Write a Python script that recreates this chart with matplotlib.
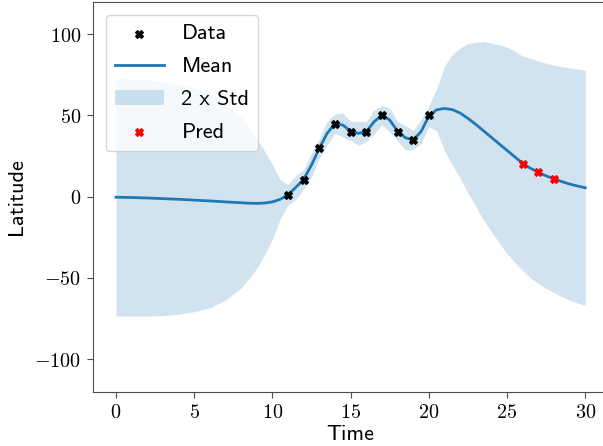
import numpy as np
import matplotlib
matplotlib.use("Agg")
import matplotlib.pyplot as plt
from matplotlib.ticker import FuncFormatter

plt.rcParams['mathtext.fontset'] = 'cm'

# observed data
data_t = [11, 12, 13, 14, 15, 16, 17, 18, 19, 20]
data_y = [1, 10, 30, 45, 40, 40, 50, 40, 35, 50]

# predictions
pred_t = [26, 27, 28]
pred_y = [20, 15, 11]

# GP mean and std
grid_t = [0, 1, 2, 3, 4, 5, 6, 7, 8, 8.5, 9, 9.5, 10, 10.5,
          11, 11.5, 12, 12.5, 13, 13.5, 14, 14.5, 15, 15.5, 16, 16.5,
          17, 17.5, 18, 18.5, 19, 19.5, 20, 20.5, 21, 21.5, 22, 22.5,
          23, 23.5, 24, 24.5, 25, 25.5, 26, 26.5, 27, 27.5, 28, 28.5,
          29, 29.5, 30]
mean_y = [-0.3, -0.5, -0.8, -1.2, -1.6, -2.1, -2.6, -3.2, -3.7, -4.0, -4.1, -3.9, -3.2, -1.6,
          1.2, 5.8, 10.7, 19.5, 29.8, 39.0, 45.0, 44.1, 40.4, 39.0, 40.0, 46.1,
          50.2, 47.2, 40.4, 36.3, 34.9, 40.0, 49.5, 53.5, 54.3, 53.6, 51.5, 48.2,
          44.5, 40.5, 36.5, 32.5, 28.5, 24.5, 20.5, 17.5, 15.0, 12.8, 11.0, 9.3,
          7.8, 6.6, 5.5]
std_y = [36.55, 36.5, 36.35, 36.0, 35.4, 34.35, 32.85, 30.25, 26.25, 23.2, 20.0, 16.0, 11.5, 6.0,
         3.2, 3.7, 3.0, 3.7, 3.0, 3.7, 3.0, 3.7, 3.0, 3.7, 3.0, 3.7,
         3.0, 3.7, 3.0, 3.7, 3.0, 3.7, 3.2, 6.5, 13.0, 17.0, 20.0, 23.0,
         25.25, 27.5, 29.0, 30.5, 31.75, 32.5, 33.0, 33.75, 34.25, 34.65, 35.0, 35.4,
         35.75, 36.0, 36.25]

gt = np.array(grid_t)
gm = np.array(mean_y)
gs = np.array(std_y)

fig = plt.figure(figsize=(6.03, 4.46), dpi=100)
ax = fig.add_axes([92.5 / 603, 1 - 391.7 / 446, 516.2 / 603, 390 / 446])

blue = '#1f77b4'
ax.scatter(data_t, data_y, marker='X', color='black', s=30, zorder=4, label='Data')
ax.plot(gt, gm, color=blue, lw=2, zorder=3, label='Mean')
ax.fill_between(gt, gm - 2 * gs, gm + 2 * gs, color=blue, alpha=0.2, lw=0,
                zorder=1, label='2 x Std')
ax.scatter(pred_t, pred_y, marker='X', color='red', s=30, zorder=4, label='Pred')

ax.set_xlim(-1.5, 31.5)
ax.set_ylim(-120, 120)
ax.set_xticks([0, 5, 10, 15, 20, 25, 30])
ax.set_yticks([-100, -50, 0, 50, 100])
fmt = FuncFormatter(lambda v, p: r'$%d$' % v)
ax.xaxis.set_major_formatter(fmt)
ax.yaxis.set_major_formatter(fmt)
ax.tick_params(labelsize=14.5, color='0.3', length=4.5)
for sp in ax.spines.values():
    sp.set_color('0.3')

ax.set_xlabel('Time', family='cmss10', fontsize=16, labelpad=2)
ax.set_ylabel('Latitude', family='cmss10', fontsize=16, labelpad=6)

leg = ax.legend(loc='upper left', prop={'family': 'cmss10', 'size': 16},
                scatterpoints=1, borderaxespad=0.6, handlelength=2.2,
                labelspacing=0.6)

fig.savefig('out.png', dpi=100)
